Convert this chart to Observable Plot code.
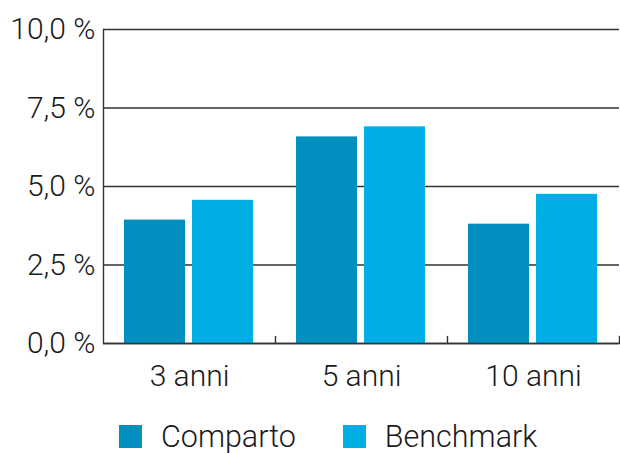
<!DOCTYPE html>
<html>
<head>
<meta charset="utf-8">
<script src="https://cdn.jsdelivr.net/npm/d3@7"></script>
<script src="https://cdn.jsdelivr.net/npm/@observablehq/plot@0.6"></script>
<style>
  html, body { margin: 0; padding: 0; background: #fff; }
  #wrap { width: 620px; font-family: Roboto, "Liberation Sans", sans-serif; font-weight: 300; color: #1a1a1a; }
  .legend { height: 33px; padding-top: 20px; display: flex; align-items: center; padding-left: 119px; font-size: 30.5px; }
  .legend .item { display: flex; align-items: center; }
  .legend .sw { width: 23px; height: 23px; margin-right: 19px; }
  .legend .item + .item { margin-left: 47px; }
</style>
</head>
<body>
<div id="wrap"></div>
<script>
const categories = ["3 anni", "5 anni", "10 anni"];
const series = ["Comparto", "Benchmark"];
const comparto = [3.93, 6.58, 3.80];
const benchmark = [4.56, 6.90, 4.75];
const tickValues = [0, 2.5, 5, 7.5, 10];
const tickLabels = ["0,0 %", "2,5 %", "5,0 %", "7,5 %", "10,0 %"];
const colors = ["#008fbe", "#00aee6"];

const data = categories.flatMap((c, i) => [
  {cat: c, serie: series[0], value: comparto[i]},
  {cat: c, serie: series[1], value: benchmark[i]}
]);

const W = 620, H = 400, mT = 29, mB = 57, mL = 103, mR = 1;
const lineColor = "#333";
const lineShape = {draw(context, l) { context.moveTo(0, 0); context.lineTo(0, -l); }};

const chart = Plot.plot({
  width: W,
  height: H,
  marginTop: mT,
  marginBottom: mB,
  marginLeft: mL,
  marginRight: mR,
  style: {fontSize: "30px", fontFamily: "Roboto, 'Liberation Sans', sans-serif", fontWeight: 300, color: "#1a1a1a", background: "#fff"},
  fx: {domain: categories, paddingInner: 0, paddingOuter: 0, axis: "bottom", tickSize: 0, tickPadding: 21, label: null},
  x: {domain: series, paddingInner: 0.1, paddingOuter: 0.3, axis: null},
  y: {domain: [0, 10], ticks: tickValues, tickFormat: (d) => tickLabels[tickValues.indexOf(d)], tickSize: 0, tickPadding: 8, label: null},
  color: {domain: series, range: colors},
  marks: [
    Plot.ruleY(tickValues, {stroke: lineColor, strokeWidth: 1.4}),
    Plot.barY(data, {fx: "cat", x: "serie", y: "value", fill: "serie"}),
    Plot.ruleY([0], {stroke: lineColor, strokeWidth: 1.4}),
    Plot.vector(categories, {fx: (d) => d, frameAnchor: "bottom-right", length: 7, rotate: 0, anchor: "start", shape: lineShape, stroke: lineColor, strokeWidth: 1.4}),
    Plot.vector([categories[0]], {fx: (d) => d, frameAnchor: "bottom-left", length: H - mT - mB, rotate: 0, anchor: "start", shape: lineShape, stroke: lineColor, strokeWidth: 1.4})
  ]
});

const wrap = document.getElementById("wrap");
wrap.appendChild(chart);

const legend = document.createElement("div");
legend.className = "legend";
series.forEach((s, i) => {
  const item = document.createElement("div");
  item.className = "item";
  const sw = document.createElement("span");
  sw.className = "sw";
  sw.style.background = colors[i];
  const t = document.createElement("span");
  t.textContent = s;
  item.appendChild(sw);
  item.appendChild(t);
  legend.appendChild(item);
});
wrap.appendChild(legend);
</script>
</body>
</html>
